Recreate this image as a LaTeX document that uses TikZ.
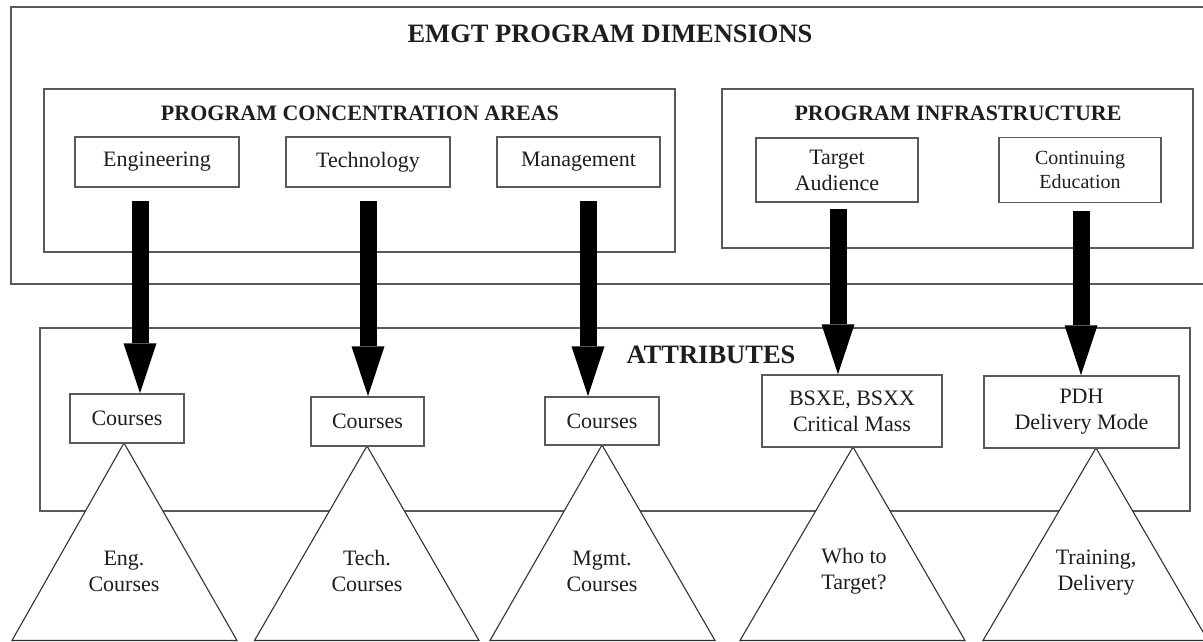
\documentclass[tikz,border=0pt]{standalone}
\usepackage{fontspec}
\setmainfont{Liberation Serif}
\usetikzlibrary{arrows.meta}
\definecolor{boxgray}{HTML}{5A5A5A}
\definecolor{txt}{HTML}{1E1E1E}
\definecolor{trigray}{HTML}{333333}
\begin{document}
\begin{tikzpicture}[x=1pt,y=-1pt,
  frame/.style={draw=boxgray,line width=1.8pt},
  box/.style={draw=boxgray,line width=1.5pt,fill=white,inner sep=0pt,align=center,text=txt,font=\fontsize{22}{26}\selectfont},
  title/.style={inner sep=0pt,text=txt,font=\fontsize{26.5}{30}\selectfont\bfseries},
  subtitle/.style={inner sep=0pt,text=txt,font=\fontsize{22}{26}\selectfont\bfseries},
  trilabel/.style={inner sep=0pt,align=center,text=txt,font=\fontsize{22}{26}\selectfont},
  tri/.style={draw=trigray,line width=1.1pt,fill=white,line join=miter},
  bigarrow/.style={line width=17pt,-{Triangle[width=33pt,length=50pt,line width=0pt]}}
]
\useasboundingbox (0,0) rectangle (1203,642);
\fill[white] (0,0) rectangle (1203,642);
% frames
\draw[frame] (11,7) rectangle (1215,284);
\draw[frame] (44,89) rectangle (675,252);
\draw[frame] (722,89) rectangle (1193,248);
\draw[frame] (40,328) rectangle (1190,511);
% titles
\node[title] (tmain) at (610,34) {EMGT PROGRAM DIMENSIONS};
\node[subtitle] (tpca) at (360,113) {PROGRAM CONCENTRATION AREAS};
\node[subtitle] (tpi) at (958,113) {PROGRAM INFRASTRUCTURE};
\node[title] (tattr) at (711,355) {ATTRIBUTES};
% top boxes
\node[box,minimum width=164pt,minimum height=50pt] (eng) at (157,162) {Engineering};
\node[box,minimum width=164pt,minimum height=50pt] (tech) at (368,162) {Technology};
\node[box,minimum width=163pt,minimum height=50pt] (mgmt) at (578.5,162) {Management};
\node[box,minimum width=162pt,minimum height=64pt] (aud) at (837,170) {Target\\Audience};
\node[box,minimum width=162pt,minimum height=65pt,font=\fontsize{20}{23.5}\selectfont] (cont) at (1080,170) {Continuing\\Education};
% triangles
\draw[tri] (124,443) -- (12,640.5) -- (237,640.5) -- cycle;
\draw[tri] (367,446) -- (254.5,640.5) -- (479,640.5) -- cycle;
\draw[tri] (602,445) -- (490,640.5) -- (715,640.5) -- cycle;
\draw[tri] (853,447) -- (740,640.5) -- (965,640.5) -- cycle;
\draw[tri] (1096,448) -- (983,640.5) -- (1208,640.5) -- cycle;
% attribute boxes
\node[box,minimum width=114pt,minimum height=49pt] (ceng) at (127,418.5) {Courses};
\node[box,minimum width=113pt,minimum height=49pt] (ctech) at (367.5,421.5) {Courses};
\node[box,minimum width=114pt,minimum height=48pt] (cmgmt) at (602,421) {Courses};
\node[box,minimum width=180pt,minimum height=72pt] (bsxe) at (852,411) {BSXE, BSXX\\Critical Mass};
\node[box,minimum width=195pt,minimum height=72pt] (pdh) at (1081.5,412) {PDH\\Delivery Mode};
% triangle labels
\node[trilabel] (leng) at (124,571) {Eng.\\Courses};
\node[trilabel] (ltech) at (367,571) {Tech.\\Courses};
\node[trilabel] (lmgmt) at (602,571) {Mgmt.\\Courses};
\node[trilabel] (lwho) at (854,571) {Who to\\Target?};
\node[trilabel] (ltrain) at (1096,573) {Training,\\Delivery};
% arrows
\coordinate (a1) at (140,201);
\coordinate (a2) at (368,201);
\coordinate (a3) at (588,201);
\coordinate (a4) at (838,209);
\coordinate (a5) at (1081,211);
\draw[bigarrow] (a1) -- (a1 |- ceng.north);
\draw[bigarrow] (a2) -- (a2 |- ctech.north);
\draw[bigarrow] (a3) -- (a3 |- cmgmt.north);
\draw[bigarrow] (a4) -- (a4 |- bsxe.north);
\draw[bigarrow] (a5) -- (a5 |- pdh.north);
\end{tikzpicture}
\end{document}
